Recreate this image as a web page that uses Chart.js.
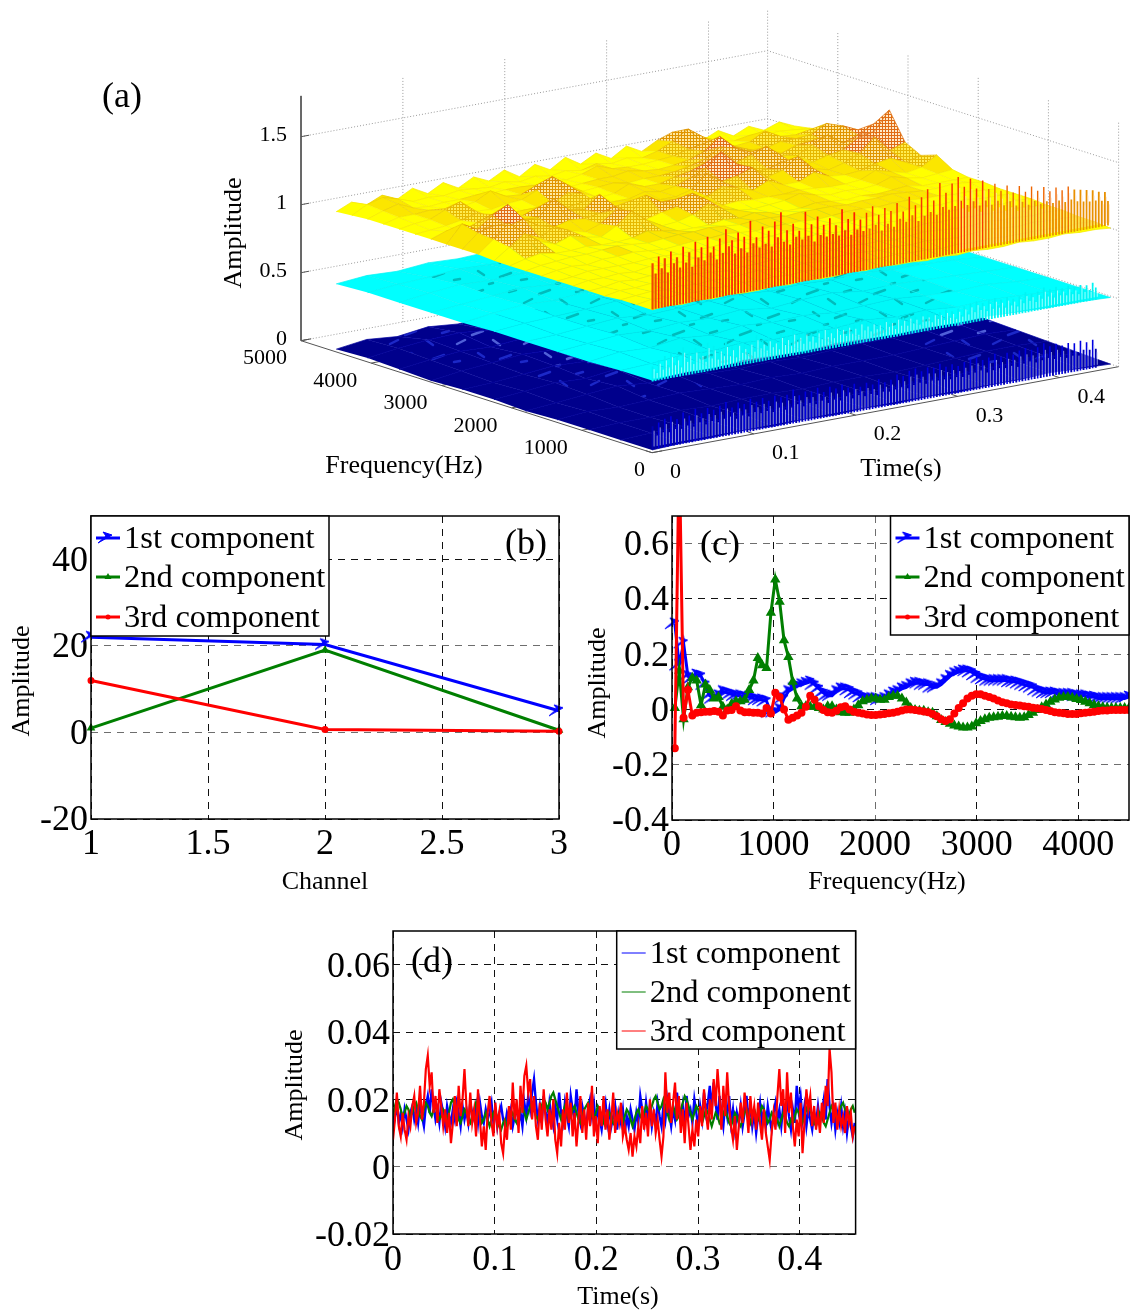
<!DOCTYPE html>
<html>
<head>
<meta charset="utf-8">
<title>Component amplitudes</title>
<script src="https://cdn.jsdelivr.net/npm/chart.js@4"></script>
<style>
  html, body { margin: 0; padding: 0; background: #fff; }
  #page { position: relative; width: 1132px; height: 1310px; overflow: hidden; }
  canvas { position: absolute; }
</style>
</head>
<body>
<div id="page">
  <canvas id="panelA" width="1132" height="505" style="left:0;top:0"></canvas>
  <canvas id="panelB" width="570" height="400" style="left:0;top:505px"></canvas>
  <canvas id="panelC" width="554" height="400" style="left:578px;top:505px"></canvas>
  <canvas id="panelD" width="600" height="390" style="left:280px;top:920px"></canvas>
</div>
<script>
/** Four panel component figure: waterfall surfaces (a), channel (b), spectrum (c), waveform (d) */

const SERIF = '"Liberation Serif", "Times New Roman", serif';
const BLUE = '#0000ff', GREEN = '#007f00', RED = '#ff0000';
const componentLabels = ['1st component', '2nd component', '3rd component'];

// panel (a) axes
const timeTicksA = [0, 0.1, 0.2, 0.3, 0.4];
const freqTicksA = [0, 1000, 2000, 3000, 4000, 5000];
const ampTicksA = [0, 0.5, 1, 1.5];
const gridTimesHi = [0,.015,.03,.045,.06,.075,.09,.105,.12,.135,.15,.165,.18,.195,.21,.225,.24,.255,.27,.285,.3,.315,.33,.345,.36,.375,.39,.405,.42,.435,.45];
const gridFreqsHi = [0,225,450,675,900,1125,1350,1575,1800,2025,2250,2475,2700,2925,3150,3375,3600,3825,4050,4275,4500];
const gridTimesLo = [0,.03,.06,.09,.12,.15,.18,.21,.24,.27,.3,.33,.36,.39,.42,.45];
const gridFreqsLo = [0,450,900,1350,1800,2250,2700,3150,3600,4050,4500];

// 3rd component surface, one row per frequency
const surfaceYellow = [
  [1.05,1.06,1.05,1.06,1.05,1.06,1.05,1.05,1.06,1.05,1.06,1.05,1.05,1.06,1.05,1.06,1.05,1.05,1.04,1.05,1.04,1.05,1.04,1.04,1.05,1.04,1.04,1.05,1.04,1.04,1.03],
  [1.05,1.07,1.06,1.07,1.06,1.07,1.06,1.07,1.06,1.07,1.06,1.07,1.06,1.07,1.06,1.07,1.06,1.07,1.06,1.06,1.05,1.06,1.05,1.06,1.05,1.05,1.05,1.05,1.04,1.05,1.04],
  [1.05,1.06,1.07,1.06,1.07,1.06,1.07,1.06,1.07,1.08,1.07,1.06,1.07,1.06,1.07,1.08,1.07,1.06,1.07,1.06,1.07,1.06,1.05,1.06,1.07,1.06,1.05,1.06,1.05,1.05,1.04],
  [1.04,1.06,1.06,1.07,1.06,1.07,1.08,1.07,1.06,1.07,1.07,1.08,1.07,1.07,1.06,1.07,1.08,1.07,1.07,1.06,1.07,1.08,1.07,1.06,1.06,1.07,1.06,1.06,1.05,1.06,1.05],
  [1.04,1.05,1.07,1.06,1.07,1.07,1.06,1.08,1.07,1.06,1.08,1.07,1.08,1.07,1.08,1.07,1.06,1.08,1.07,1.08,1.07,1.06,1.08,1.07,1.08,1.07,1.07,1.06,1.07,1.06,1.05],
  [1.04,1.06,1.06,1.07,1.06,1.08,1.07,1.07,1.08,1.07,1.07,1.08,1.08,1.07,1.08,1.08,1.09,1.08,1.07,1.08,1.09,1.08,1.07,1.08,1.07,1.08,1.08,1.07,1.06,1.07,1.06],
  [1.04,1.05,1.07,1.07,1.07,1.07,1.08,1.08,1.07,1.08,1.08,1.09,1.09,1.08,1.08,1.09,1.09,1.08,1.09,1.08,1.09,1.09,1.08,1.09,1.09,1.08,1.09,1.08,1.07,1.07,1.06],
  [1.04,1.06,1.07,1.06,1.08,1.08,1.09,1.08,1.07,1.08,1.09,1.09,1.10,1.09,1.08,1.09,1.09,1.09,1.08,1.09,1.10,1.10,1.09,1.10,1.10,1.09,1.09,1.08,1.08,1.07,1.06],
  [1.04,1.06,1.07,1.08,1.08,1.09,1.10,1.09,1.08,1.09,1.10,1.10,1.11,1.10,1.09,1.10,1.10,1.09,1.10,1.10,1.10,1.09,1.10,1.10,1.11,1.10,1.09,1.09,1.10,1.09,1.07],
  [1.04,1.07,1.09,1.07,1.07,1.08,1.07,1.07,1.08,1.11,1.09,1.07,1.07,1.07,1.09,1.08,1.10,1.08,1.07,1.07,1.09,1.08,1.07,1.08,1.07,1.08,1.09,1.07,1.07,1.07,1.07],
  [1.04,1.12,1.20,1.12,1.08,1.12,1.09,1.07,1.13,1.22,1.13,1.07,1.08,1.11,1.17,1.11,1.08,1.07,1.08,1.09,1.12,1.09,1.07,1.08,1.07,1.08,1.12,1.09,1.07,1.08,1.09],
  [1.05,1.14,1.24,1.14,1.09,1.15,1.10,1.07,1.11,1.19,1.11,1.08,1.11,1.13,1.21,1.14,1.08,1.09,1.08,1.08,1.08,1.09,1.08,1.07,1.07,1.08,1.13,1.10,1.07,1.09,1.16],
  [1.05,1.15,1.18,1.16,1.19,1.12,1.09,1.12,1.11,1.13,1.16,1.09,1.20,1.13,1.13,1.09,1.11,1.16,1.13,1.09,1.14,1.09,1.09,1.14,1.09,1.08,1.09,1.12,1.14,1.09,1.12],
  [1.05,1.18,1.12,1.20,1.26,1.13,1.12,1.24,1.14,1.12,1.21,1.10,1.12,1.09,1.09,1.09,1.12,1.22,1.14,1.16,1.20,1.11,1.14,1.22,1.11,1.08,1.11,1.16,1.26,1.14,1.18],
  [1.05,1.09,1.07,1.11,1.15,1.08,1.10,1.14,1.09,1.10,1.12,1.08,1.08,1.08,1.11,1.09,1.11,1.15,1.20,1.30,1.19,1.11,1.11,1.14,1.09,1.10,1.13,1.15,1.22,1.24,1.38],
  [1.05,1.06,1.07,1.09,1.12,1.07,1.08,1.08,1.08,1.09,1.15,1.12,1.07,1.08,1.13,1.09,1.09,1.12,1.14,1.18,1.15,1.14,1.18,1.22,1.13,1.11,1.17,1.22,1.14,1.18,1.24],
  [1.05,1.07,1.08,1.13,1.17,1.08,1.07,1.09,1.10,1.15,1.23,1.15,1.08,1.09,1.10,1.08,1.09,1.09,1.10,1.12,1.15,1.22,1.19,1.14,1.11,1.09,1.13,1.14,1.11,1.21,1.16],
  [1.05,1.08,1.08,1.09,1.08,1.07,1.09,1.15,1.09,1.08,1.13,1.09,1.07,1.08,1.09,1.09,1.11,1.09,1.08,1.09,1.11,1.15,1.24,1.14,1.10,1.09,1.12,1.12,1.13,1.19,1.12],
  [1.05,1.09,1.12,1.07,1.06,1.07,1.07,1.08,1.07,1.08,1.08,1.07,1.08,1.07,1.09,1.13,1.09,1.08,1.08,1.09,1.10,1.13,1.15,1.12,1.09,1.10,1.16,1.10,1.09,1.11,1.09],
  [1.04,1.10,1.13,1.10,1.06,1.07,1.06,1.08,1.07,1.06,1.08,1.06,1.08,1.06,1.08,1.06,1.09,1.07,1.09,1.07,1.10,1.15,1.22,1.14,1.09,1.07,1.09,1.07,1.08,1.07,1.06],
  [1.03,1.08,1.04,1.09,1.04,1.10,1.04,1.10,1.04,1.10,1.05,1.11,1.04,1.11,1.05,1.12,1.05,1.11,1.05,1.12,1.06,1.12,1.16,1.10,1.06,1.11,1.05,1.10,1.05,1.09,1.04]
];
const surfaceCyan = [
  [.53,.55,.54,.56,.55,.54,.56,.55,.54,.55,.54,.55,.54,.53,.53,.52],
  [.53,.54,.56,.55,.57,.55,.56,.55,.57,.55,.56,.54,.55,.54,.53,.52],
  [.52,.55,.54,.57,.55,.58,.56,.57,.55,.56,.57,.55,.54,.55,.53,.52],
  [.52,.54,.56,.55,.57,.56,.58,.55,.57,.58,.55,.56,.55,.54,.53,.52],
  [.52,.53,.55,.57,.55,.56,.57,.58,.56,.57,.56,.57,.55,.55,.54,.52],
  [.52,.54,.55,.56,.58,.55,.57,.56,.58,.56,.57,.55,.56,.55,.53,.52],
  [.51,.54,.56,.55,.57,.56,.55,.57,.56,.58,.55,.57,.56,.54,.54,.52],
  [.51,.53,.55,.57,.55,.57,.56,.55,.57,.55,.56,.55,.57,.55,.53,.52],
  [.51,.54,.56,.55,.56,.55,.57,.56,.55,.56,.55,.56,.55,.56,.54,.52],
  [.51,.53,.54,.56,.55,.56,.55,.56,.54,.55,.56,.54,.55,.54,.53,.52],
  [.50,.52,.51,.53,.52,.53,.52,.53,.52,.53,.52,.53,.52,.52,.52,.51]
];
const surfaceBlue = [
  [.02,.03,.03,.04,.03,.04,.03,.04,.03,.04,.03,.04,.04,.05,.04,.03],
  [.02,.03,.04,.03,.04,.03,.04,.03,.04,.03,.04,.04,.05,.05,.05,.04],
  [.02,.03,.03,.04,.03,.04,.04,.03,.04,.04,.03,.04,.05,.06,.06,.05],
  [.02,.04,.03,.04,.05,.04,.03,.04,.03,.04,.04,.04,.05,.06,.07,.06],
  [.01,.03,.05,.07,.05,.06,.04,.03,.04,.03,.04,.05,.05,.07,.08,.07],
  [.02,.04,.06,.05,.08,.06,.05,.04,.03,.04,.04,.05,.06,.07,.09,.08],
  [.02,.03,.05,.07,.06,.07,.06,.04,.05,.04,.05,.05,.06,.08,.11,.09],
  [.01,.04,.06,.08,.07,.06,.05,.05,.04,.05,.05,.06,.07,.08,.10,.07],
  [.02,.05,.07,.06,.08,.07,.06,.05,.05,.05,.06,.06,.07,.07,.07,.05],
  [.03,.06,.08,.09,.07,.06,.06,.05,.06,.05,.06,.06,.06,.06,.05,.04],
  [.02,.05,.03,.06,.04,.06,.04,.05,.04,.05,.04,.05,.04,.04,.04,.03]
];
// spiky low frequency ridge along the front edge of each surface
const ridgeTimeStepYellow = 0.003;
const ridgeYellow = [1.38,1.30,1.42,1.33,1.40,1.29,1.44,1.35,1.39,1.31,1.46,1.34,1.41,1.30,1.48,1.36,1.43,1.33,1.50,1.38,1.42,1.32,1.47,1.36,1.53,1.40,1.44,1.34,1.49,1.37,1.45,1.33,1.56,1.39,1.43,1.35,1.50,1.37,1.46,1.34,1.52,1.40,1.58,1.36,1.44,1.33,1.48,1.38,1.42,1.35,1.55,1.37,1.45,1.32,1.50,1.36,1.43,1.34,1.47,1.35,1.41,1.33,1.52,1.36,1.44,1.32,1.48,1.35,1.42,1.33,1.46,1.34,1.50,1.36,1.43,1.31,1.47,1.35,1.44,1.32,1.49,1.37,1.42,1.34,1.52,1.38,1.45,1.33,1.50,1.36,1.55,1.38,1.46,1.35,1.58,1.40,1.50,1.37,1.56,1.39,1.60,1.42,1.52,1.38,1.57,1.40,1.49,1.36,1.54,1.39,1.47,1.35,1.50,1.37,1.44,1.33,1.47,1.35,1.41,1.31,1.45,1.33,1.40,1.30,1.43,1.32,1.39,1.29,1.41,1.30,1.37,1.28,1.39,1.29,1.36,1.27,1.38,1.28,1.35,1.26,1.34,1.25,1.33,1.24,1.32,1.24,1.30,1.23,1.29,1.22];
const ridgeTimeStepLow = 0.003;
const ridgeCyan = [.62,.58,.66,.60,.68,.61,.70,.62,.66,.59,.72,.63,.68,.60,.70,.64,.66,.60,.72,.62,.69,.60,.67,.62,.70,.61,.66,.59,.69,.62,.65,.60,.68,.61,.71,.63,.66,.60,.68,.62,.65,.59,.69,.62,.66,.60,.70,.63,.66,.60,.68,.61,.65,.59,.67,.61,.69,.62,.65,.60,.68,.62,.66,.60,.67,.61,.65,.59,.68,.62,.65,.60,.66,.61,.64,.59,.66,.61,.64,.58,.66,.60,.64,.59,.65,.60,.63,.58,.65,.60,.63,.58,.64,.60,.63,.58,.64,.59,.62,.57,.63,.58,.64,.59,.65,.60,.66,.61,.64,.59,.65,.60,.66,.60,.64,.59,.65,.60,.63,.58,.64,.60,.66,.61,.64,.59,.65,.61,.67,.62,.65,.60,.66,.61,.64,.60,.65,.60,.63,.59,.64,.60,.63,.59,.64,.60];
const ridgeBlue = [.18,.13,.20,.15,.22,.14,.23,.16,.20,.15,.24,.17,.21,.15,.25,.18,.21,.15,.24,.17,.22,.15,.24,.17,.26,.18,.21,.15,.24,.17,.22,.15,.25,.18,.22,.16,.24,.17,.21,.15,.24,.18,.22,.15,.23,.16,.26,.18,.21,.15,.23,.17,.22,.15,.24,.17,.20,.14,.23,.16,.21,.14,.23,.17,.20,.14,.22,.16,.19,.14,.21,.15,.19,.13,.22,.15,.19,.14,.20,.15,.23,.16,.21,.14,.24,.16,.25,.17,.22,.15,.24,.17,.23,.16,.25,.16,.22,.15,.23,.16,.21,.15,.23,.16,.24,.17,.25,.18,.22,.15,.23,.16,.25,.17,.22,.16,.24,.17,.22,.15,.24,.17,.25,.18,.23,.16,.24,.17,.26,.18,.23,.16,.24,.17,.22,.15,.23,.16,.22,.15,.23,.16,.21,.15,.22,.15];

// panel (b)
const channels = [1, 2, 3];
const channelBlue = [22, 20.3, 5];
const channelGreen = [1, 19, 0.5];
const channelRed = [12, 0.7, 0.3];
const xTicksB = [1, 1.5, 2, 2.5, 3];
const yTicksB = [-20, 0, 20, 40];

// panel (c)
const freqC = [28,71,114,157,200,243,286,329,372,415,458,501,544,587,630,673,716,759,802,845,888,931,974,1017,1060,1103,1146,1189,1232,1275,1318,1361,1404,1447,1490,1533,1576,1619,1662,1705,1748,1791,1834,1877,1920,1963,2006,2049,2092,2135,2178,2221,2264,2307,2350,2393,2436,2479,2522,2565,2608,2651,2694,2737,2780,2823,2866,2909,2952,2995,3038,3081,3124,3167,3210,3253,3296,3339,3382,3425,3468,3511,3554,3597,3640,3683,3726,3769,3812,3855,3898,3941,3984,4027,4070,4113,4156,4199,4242,4285,4328,4371,4414,4457,4500];
const spectrumBlue = [.31,.16,.24,.12,.11,.125,.12,.09,.05,.04,.05,.065,.06,.055,.05,.05,.045,.045,.04,.035,.035,.03,-.01,-.01,0,.04,.065,.075,.085,.09,.095,.10,.09,.075,.06,.05,.05,.065,.075,.075,.07,.06,.055,.045,.04,.04,.04,.035,.04,.05,.06,.065,.075,.08,.09,.095,.095,.09,.09,.08,.08,.09,.105,.12,.13,.135,.14,.14,.135,.125,.115,.11,.105,.105,.105,.105,.105,.10,.10,.095,.09,.085,.08,.07,.065,.06,.06,.06,.055,.055,.055,.055,.05,.05,.05,.045,.045,.04,.04,.04,.04,.04,.04,.04,.045];
const spectrumGreen = [.005,.14,-.035,.08,.115,.105,.015,.09,.07,.04,.045,.01,0,.02,.03,.03,.035,.07,.105,.186,.16,.15,.35,.47,.39,.25,.19,.10,.04,.012,.012,.01,.01,.005,0,.012,.012,0,-.01,-.012,-.012,0,.015,.03,.035,.04,.04,.035,.035,.045,.05,.05,.04,.025,.005,-.002,-.005,-.005,-.01,-.012,-.025,-.038,-.045,-.052,-.058,-.062,-.065,-.065,-.062,-.05,-.042,-.035,-.03,-.028,-.026,-.024,-.024,-.026,-.028,-.03,-.028,-.02,-.012,-.002,.008,.018,.028,.036,.042,.045,.045,.042,.038,.034,.028,.022,.016,.012,.008,.006,.005,.005,.005,.005,.005];
const spectrumRed = [-.14,.95,-.03,.07,-.022,-.012,-.01,-.008,-.008,-.006,-.008,-.022,-.004,-.002,.012,-.004,-.01,-.01,-.012,-.012,-.015,.005,-.015,.06,.045,0,-.037,-.03,-.022,-.012,.01,.05,.035,.012,-.002,-.01,-.012,-.005,.008,.012,0,-.008,-.012,-.015,-.018,-.02,-.02,-.018,-.016,-.014,-.012,-.008,-.004,0,0,-.002,-.005,-.007,-.01,-.016,-.025,-.035,-.042,-.035,-.015,.005,.022,.04,.05,.055,.055,.05,.045,.04,.032,.026,.022,.018,.016,.014,.012,.01,.006,.004,.002,-.002,-.006,-.01,-.012,-.014,-.016,-.016,-.016,-.014,-.012,-.01,-.008,-.006,-.004,-.004,-.002,-.002,-.002,-.002,-.002];
const xTicksC = [0, 1000, 2000, 3000, 4000];
const yTicksC = [-0.4, -0.2, 0, 0.2, 0.4, 0.6];

// panel (d), sampled every 1.9 ms
const sampleStepD = 0.0019;
const waveBlue = [.011,.015,.018,.013,.016,.012,.017,.014,.011,.016,.018,.014,.017,.013,.019,.015,.012,.018,.021,.016,
  .023,.018,.014,.017,.013,.019,.016,.012,.018,.015,.013,.017,.014,.019,.016,.012,.018,.014,.017,.013,
  .019,.016,.014,.018,.013,.019,.015,.013,.017,.014,.016,.019,.013,.017,.012,.016,.018,.014,.012,.016,
  .014,.017,.012,.015,.018,.013,.016,.012,.019,.015,.021,.017,.022,.026,.019,.014,.018,.013,.021,.016,
  .013,.019,.015,.012,.018,.014,.022,.016,.013,.019,.015,.012,.021,.017,.014,.023,.016,.013,.018,.015,
  .012,.017,.020,.015,.019,.013,.017,.014,.011,.016,.019,.013,.017,.012,.015,.018,.011,.016,.013,.017,
  .010,.015,.012,.017,.014,.011,.016,.013,.021,.017,.013,.019,.014,.018,.012,.016,.013,.019,.015,.012,
  .018,.014,.020,.016,.012,.017,.014,.022,.017,.013,.018,.012,.021,.015,.017,.013,.020,.016,.012,.018,
  .014,.022,.016,.019,.024,.017,.025,.019,.014,.021,.016,.012,.019,.015,.021,.013,.017,.011,.016,.013,
  .018,.012,.016,.021,.014,.018,.012,.016,.010,.015,.019,.013,.017,.012,.018,.014,.011,.016,.019,.014,
  .017,.012,.018,.014,.020,.015,.011,.017,.013,.024,.017,.021,.014,.018,.012,.017,.014,.011,.016,.013,
  .018,.013,.016,.020,.014,.026,.018,.013,.017,.011,.016,.013,.018,.012,.016,.010,.015,.012,.009,.013];
const waveGreen = [.015,.018,.020,.019,.017,.015,.016,.018,.017,.015,.016,.018,.019,.017,.015,.014,.017,.019,.018,.016,
  .015,.017,.018,.016,.014,.015,.017,.016,.014,.016,.019,.020,.018,.016,.014,.013,.015,.017,.016,.014,
  .013,.015,.017,.019,.017,.015,.013,.014,.016,.014,.012,.014,.016,.017,.014,.012,.011,.013,.014,.012,
  .013,.015,.016,.014,.013,.015,.017,.018,.016,.014,.016,.018,.019,.017,.015,.014,.016,.018,.020,.019,
  .017,.019,.021,.022,.020,.018,.016,.014,.016,.018,.016,.014,.015,.017,.018,.016,.014,.013,.015,.017,
  .018,.019,.017,.015,.014,.016,.018,.017,.015,.013,.012,.014,.016,.015,.013,.012,.014,.016,.015,.013,
  .015,.017,.016,.014,.012,.014,.016,.017,.015,.014,.016,.018,.017,.016,.018,.020,.021,.019,.017,.018,
  .020,.018,.016,.014,.016,.018,.016,.014,.015,.017,.019,.021,.020,.018,.016,.014,.016,.018,.017,.015,
  .013,.015,.017,.016,.014,.012,.014,.016,.015,.013,.014,.016,.017,.015,.013,.012,.014,.016,.015,.013,
  .012,.014,.016,.017,.015,.013,.015,.017,.015,.014,.016,.018,.017,.015,.013,.014,.016,.015,.013,.014,
  .012,.014,.016,.015,.013,.012,.014,.013,.015,.017,.016,.014,.013,.015,.017,.019,.017,.015,.013,.012,
  .014,.016,.015,.013,.012,.014,.016,.018,.017,.015,.014,.016,.018,.019,.017,.016,.015,.017,.018,.016];
const waveRed = [.008,.014,.022,.012,.009,.016,.011,.008,.015,.012,.018,.021,.013,.016,.024,.014,.019,.029,.033,.024,
  .028,.016,.021,.013,.023,.018,.012,.017,.010,.016,.007,.013,.021,.012,.024,.015,.020,.029,.018,.012,
  .022,.013,.017,.009,.023,.014,.006,.012,.005,.016,.021,.013,.009,.019,.012,.016,.007,.004,.012,.008,
  .018,.011,.025,.014,.020,.010,.024,.016,.027,.030,.022,.026,.014,.021,.012,.008,.019,.011,.023,.014,
  .009,.017,.011,.020,.008,.004,.013,.006,.017,.011,.022,.013,.019,.009,.016,.006,.014,.021,.010,.017,
  .008,.019,.012,.024,.009,.015,.007,.018,.012,.021,.011,.017,.008,.014,.022,.010,.016,.013,.019,.009,
  .012,.008,.005,.010,.003,.009,.006,.012,.007,.018,.011,.016,.009,.020,.012,.017,.010,.014,.008,.003,
  .009,.028,.016,.022,.013,.019,.025,.014,.021,.010,.017,.007,.019,.012,.005,.011,.006,.014,.009,.018,
  .012,.023,.016,.011,.020,.014,.026,.018,.029,.021,.011,.024,.015,.028,.018,.012,.008,.015,.005,.012,
  .019,.013,.022,.017,.010,.021,.014,.018,.011,.019,.013,.008,.017,.010,.006,.002,.010,.016,.011,.021,
  .029,.018,.023,.010,.028,.016,.022,.012,.006,.014,.009,.019,.004,.013,.023,.017,.021,.012,.018,.011,
  .016,.010,.019,.013,.024,.018,.035,.028,.013,.019,.011,.017,.012,.015,.010,.018,.013,.016,.009,.012];
const xTicksD = [0, 0.1, 0.2, 0.3, 0.4];
const yTicksD = [-0.02, 0, 0.02, 0.04, 0.06];

const xy = (xs, ys) => ys.map((y, i) => ({ x: xs[i], y }));

// ---- markers and fills -------------------------------------------------

function makeStarMarker() {
  const c = document.createElement('canvas');
  c.width = 26; c.height = 18;
  const g = c.getContext('2d');
  g.fillStyle = BLUE; g.strokeStyle = BLUE; g.lineWidth = 1;
  g.beginPath();
  g.moveTo(17, 6); g.lineTo(3, 14); g.lineTo(11, 7); g.lineTo(8, 3); g.closePath();
  g.fill(); g.stroke();
  return c;
}
const starMarker = makeStarMarker();

function lattice(line, bg, size = 3) {
  const c = document.createElement('canvas');
  c.width = size; c.height = size;
  const g = c.getContext('2d');
  g.fillStyle = bg; g.fillRect(0, 0, size, size);
  g.fillStyle = line; g.fillRect(0, 0, size, 1); g.fillRect(0, 0, 1, size);
  return g.createPattern(c, 'repeat');
}
function streaks(base, mark) {
  const c = document.createElement('canvas');
  c.width = 67; c.height = 41;
  const g = c.getContext('2d');
  g.fillStyle = base; g.fillRect(0, 0, 67, 41);
  g.strokeStyle = mark; g.lineWidth = 2.5; g.lineCap = 'round';
  [[3, 7, 14, 3], [24, 12, 31, 17], [40, 5, 47, 3], [55, 16, 63, 12], [9, 25, 15, 29], [31, 31, 42, 27], [52, 34, 58, 33], [20, 38, 24, 37]].forEach(s => {
    g.beginPath(); g.moveTo(s[0], s[1]); g.lineTo(s[2], s[3]); g.stroke();
  });
  return g.createPattern(c, 'repeat');
}
const YELLOW_FILLS = [
  { below: 1.09, fill: '#ffff00', line: '#f6ea00' },
  { below: 1.11, fill: '#fbe600', line: '#ecd000' },
  { below: 1.14, fill: lattice('#e6b800', '#ffec50'), line: '#e8b800' },
  { below: 1.19, fill: lattice('#e09400', '#ffe9a0'), line: '#e09800' },
  { below: 1.28, fill: lattice('#e06c14', '#ffe9c8'), line: '#e07010' },
  { below: 9, fill: lattice('#f01414', '#ffe2d8'), line: '#f01818' }
];
const CYAN_FILLS = [
  { below: .55, fill: '#00ffff', line: '#00f4f4' },
  { below: 9, fill: streaks('#00f8f8', '#00bcbc'), line: '#00eeee' }
];
const BLUE_FILLS = [
  { below: .05, fill: '#00008c', line: '#00009a' },
  { below: .07, fill: streaks('#00008c', '#1c28c8'), line: '#0000a0' },
  { below: 9, fill: streaks('#000090', '#5060d8'), line: '#0000a8' }
];

// ---- panel (a): surfaces projected to the figure plane --------------------

const T_MAX = 0.458, F_MAX = 5000, Z_TOP = 1.8;
function project3d(t, f, z) {
  return { x: 652 - 0.0702 * f + 1018.8 * t, y: 452.7 - 0.0224 * f - 187.8 * t - 136 * z };
}

function lineSet(points, color, width, dash) {
  return { data: points, showLine: true, pointRadius: 0, borderColor: color, borderWidth: width, borderDash: dash || [], fill: false, tension: 0 };
}

function surfaceCells(grid, times, freqs, fills) {
  const out = [];
  for (let i = freqs.length - 2; i >= 0; i--) {
    for (let j = times.length - 2; j >= 0; j--) {
      const corners = [[i, j], [i, j + 1], [i + 1, j + 1], [i + 1, j]];
      const mean = corners.reduce((s, c) => s + grid[c[0]][c[1]], 0) / 4;
      const style = fills.find(b => mean < b.below);
      out.push({
        data: corners.map(c => project3d(times[c[1]], freqs[c[0]], grid[c[0]][c[1]])),
        showLine: true, pointRadius: 0, tension: 0,
        fill: 'shape', backgroundColor: style.fill,
        borderColor: style.line, borderWidth: 0.7
      });
    }
  }
  return out;
}

// each ridge value is one vertical hair coloured by position and height,
// pale gap hairs sit between neighbours from gap.fromIndex onward
function ridgeLines(values, step, floor, buckets, gap) {
  const gapPts = [];
  values.forEach((v, k) => {
    if (k < gap.fromIndex) return;
    const t = 0.004 + (k + 0.5) * step;
    gapPts.push(project3d(t, 50, floor + 0.02), project3d(t, 50, floor + (v - floor) * gap.share), { x: NaN, y: NaN });
  });
  const sets = buckets.map(b => {
    const pts = [];
    values.forEach((v, k) => {
      if (k < b.k0 || k >= b.k1 || v < b.from || v >= b.to) return;
      const t = 0.004 + k * step;
      pts.push(project3d(t, 50, floor), project3d(t, 50, v), { x: NaN, y: NaN });
    });
    return lineSet(pts, b.color, b.width);
  });
  return [...sets, lineSet(gapPts, gap.color, gap.width)];
}

function wallLines() {
  const dotted = '#9a9a9a', out = [];
  const dash = [1, 2];
  ampTicksA.forEach(z => {
    out.push(lineSet([project3d(0, F_MAX, z), project3d(T_MAX, F_MAX, z), project3d(T_MAX, 0, z)], dotted, 1, dash));
  });
  timeTicksA.slice(1).concat(T_MAX).forEach(t => {
    out.push(lineSet([project3d(t, F_MAX, 0), project3d(t, F_MAX, Z_TOP)], dotted, 1, dash));
  });
  freqTicksA.slice(0, -1).slice(1).concat(0).forEach(f => {
    out.push(lineSet([project3d(T_MAX, f, 0), project3d(T_MAX, f, Z_TOP)], dotted, 1, dash));
  });
  return out;
}

function axisLines() {
  const c = '#555', out = [];
  out.push(lineSet([project3d(0, F_MAX, Z_TOP), project3d(0, F_MAX, 0), project3d(0, 0, 0), project3d(T_MAX, 0, 0)], c, 1));
  ampTicksA.forEach(z => {
    out.push(lineSet([project3d(0, F_MAX, z), project3d(0.008, F_MAX, z)], c, 1));
  });
  timeTicksA.forEach(t => {
    out.push(lineSet([project3d(t, 0, 0), project3d(t, 90, 0)], c, 1));
  });
  freqTicksA.forEach(f => {
    out.push(lineSet([project3d(0, f, 0), project3d(0.01, f, 0)], c, 1));
  });
  return out;
}

function panelADatasets() {
  // pushed in paint order, Chart.js paints the last dataset first
  const paint = [
    ...wallLines(),
    ...axisLines(),
    ...surfaceCells(surfaceBlue, gridTimesLo, gridFreqsLo, BLUE_FILLS),
    ...ridgeLines(ridgeBlue, ridgeTimeStepLow, 0.01, [
      { k0: 0, k1: 999, from: 0, to: .19, color: '#0000b0', width: 1.9 },
      { k0: 0, k1: 999, from: .19, to: 1, color: '#0000e0', width: 1.6 }
    ], { fromIndex: 0, share: 0.8, color: '#c8d2ff', width: 0.7 }),
    ...surfaceCells(surfaceCyan, gridTimesLo, gridFreqsLo, CYAN_FILLS),
    ...ridgeLines(ridgeCyan, ridgeTimeStepLow, 0.51, [
      { k0: 0, k1: 999, from: 0, to: .9, color: '#00f4f4', width: 1.8 }
    ], { fromIndex: 0, share: 0.8, color: '#e0ffff', width: 0.7 }),
    ...surfaceCells(surfaceYellow, gridTimesHi, gridFreqsHi, YELLOW_FILLS),
    ...ridgeLines(ridgeYellow, ridgeTimeStepYellow, 1.04, [
      { k0: 0, k1: 70, from: 0, to: 1.42, color: '#f04a00', width: 2.2 },
      { k0: 0, k1: 70, from: 1.42, to: 2, color: '#ff1c00', width: 1.7 },
      { k0: 70, k1: 110, from: 0, to: 1.42, color: '#ee7000', width: 2 },
      { k0: 70, k1: 110, from: 1.42, to: 2, color: '#f83800', width: 1.5 },
      { k0: 110, k1: 999, from: 0, to: 1.36, color: '#e89000', width: 1.8 },
      { k0: 110, k1: 999, from: 1.36, to: 2, color: '#ee6400', width: 1.4 }
    ], { fromIndex: 100, share: 0.85, color: '#ffe0c0', width: 0.7 })
  ];
  return paint.reverse();
}

// ---- shared page text, box and legend ------------------------------------

function textPlugin(items) {
  return {
    id: 'pageText',
    afterDatasetsDraw(chart) {
      const ctx = chart.ctx;
      items.forEach(it => {
        ctx.save();
        ctx.translate(it.x, it.y);
        if (it.vertical) ctx.rotate(-Math.PI / 2);
        ctx.font = `${it.size}px ${SERIF}`;
        ctx.fillStyle = '#000';
        ctx.textAlign = it.align || 'center';
        ctx.textBaseline = 'middle';
        ctx.fillText(it.text, 0, 0);
        ctx.restore();
      });
    }
  };
}

const boxPlugin = {
  id: 'plotBox',
  afterDatasetsDraw(chart) {
    const { left, top, width, height } = chart.chartArea;
    chart.ctx.save();
    chart.ctx.strokeStyle = '#000';
    chart.ctx.lineWidth = 1.5;
    chart.ctx.strokeRect(left, top, width, height);
    chart.ctx.restore();
  }
};

function legendPlugin(box, lineWidth, markers) {
  return {
    id: 'componentLegend',
    afterDatasetsDraw(chart) {
      const ctx = chart.ctx;
      ctx.save();
      ctx.fillStyle = '#fff';
      ctx.fillRect(box.x0, box.y0, box.x1 - box.x0, box.y1 - box.y0);
      ctx.strokeStyle = '#000';
      ctx.lineWidth = 1.5;
      ctx.strokeRect(box.x0, box.y0, box.x1 - box.x0, box.y1 - box.y0);
      [BLUE, GREEN, RED].forEach((color, i) => {
        const y = box.rows[i];
        ctx.strokeStyle = color;
        ctx.fillStyle = color;
        ctx.lineWidth = lineWidth;
        ctx.beginPath();
        ctx.moveTo(box.x0 + 5, y);
        ctx.lineTo(box.x0 + 29, y);
        ctx.stroke();
        if (markers) {
          const mx = box.x0 + 17;
          if (i === 0) ctx.drawImage(starMarker, mx - 13, y - 9);
          else if (i === 1) { ctx.beginPath(); ctx.moveTo(mx, y - 4); ctx.lineTo(mx + 3.5, y + 2); ctx.lineTo(mx - 3.5, y + 2); ctx.fill(); }
          else { ctx.beginPath(); ctx.arc(mx, y, 2.5, 0, Math.PI * 2); ctx.fill(); }
        }
        ctx.fillStyle = '#000';
        ctx.font = `32.5px ${SERIF}`;
        ctx.textAlign = 'left';
        ctx.textBaseline = 'middle';
        ctx.fillText(componentLabels[i], box.x0 + 33, y + 1);
      });
      ctx.restore();
    }
  };
}

function fixedScale(cfg) {
  return {
    type: 'linear',
    min: cfg.min, max: cfg.max,
    afterBuildTicks: s => { s.ticks = cfg.ticks.map(v => ({ value: v })); },
    afterFit: s => {
      if (cfg.width) s.width = cfg.width;
      if (cfg.height) s.height = cfg.height;
      // tick labels may hang past the plot box, as in the figure
      s.paddingTop = s.paddingBottom = s.paddingLeft = s.paddingRight = 0;
    },
    grid: {
      drawTicks: false, tickLength: 0,
      color: c => (cfg.gray.includes(c.tick.value) ? '#6e6e6e' : '#111'),
      lineWidth: 1
    },
    border: { display: false, dash: [7, 6] },
    ticks: {
      autoSkip: false, maxRotation: 0, color: '#000', padding: cfg.padding,
      labelOffset: cfg.labelOffset || 0,
      font: { family: SERIF, size: 36 },
      callback: v => String(v)
    }
  };
}

function lineChart(id, datasets, xScale, yScale, padding, extraPlugins) {
  return new Chart(document.getElementById(id), {
    type: 'scatter',
    data: { datasets },
    options: {
      responsive: false, animation: false, events: [],
      layout: { padding, autoPadding: false },
      plugins: { legend: { display: false }, tooltip: { enabled: false } },
      scales: { x: fixedScale(xScale), y: fixedScale(yScale) }
    },
    plugins: [boxPlugin, ...extraPlugins]
  });
}

function series(data, color, width, marker, order, clip) {
  return {
    data, showLine: true, tension: 0, order, clip,
    borderColor: color, backgroundColor: color, borderWidth: width,
    pointStyle: marker.style || false, pointRadius: marker.radius || 0,
    pointBorderColor: color, pointBackgroundColor: color
  };
}

// ---- render ---------------------------------------------------------------

function renderPanelA() {
  const labels = [];
  ampTicksA.forEach(z => {
    const p = project3d(0, F_MAX, z);
    labels.push({ text: String(z), x: p.x - 14, y: p.y - 1, size: 22, align: 'right' });
  });
  freqTicksA.forEach(f => {
    const p = project3d(0, f, 0);
    labels.push({ text: String(f), x: p.x - (f === 0 ? 7 : 14), y: p.y + 18, size: 22, align: 'right' });
  });
  timeTicksA.forEach(t => {
    const p = project3d(t, 0, 0);
    labels.push({ text: String(t), x: p.x + 18, y: p.y + 19.5, size: 22, align: 'left' });
  });
  labels.push(
    { text: 'Frequency(Hz)', x: 404, y: 466, size: 26 },
    { text: 'Time(s)', x: 901, y: 469, size: 26 },
    { text: 'Amplitude', x: 234, y: 233, size: 26, vertical: true },
    { text: '(a)', x: 122, y: 98, size: 36 }
  );
  new Chart(document.getElementById('panelA'), {
    type: 'scatter',
    data: { datasets: panelADatasets() },
    options: {
      responsive: false, animation: false, events: [],
      layout: { padding: 0, autoPadding: false },
      plugins: { legend: { display: false }, tooltip: { enabled: false } },
      scales: {
        x: { type: 'linear', min: 0, max: 1132, display: false },
        y: { type: 'linear', min: 0, max: 505, reverse: true, display: false }
      }
    },
    plugins: [textPlugin(labels)]
  });
}

function renderPanelB() {
  const clip = { left: 12, right: 12, top: 0, bottom: 0 };
  lineChart('panelB', [
    series(xy(channels, channelBlue), BLUE, 3, { style: starMarker, radius: 4 }, 3, clip),
    series(xy(channels, channelGreen), GREEN, 3, { style: 'triangle', radius: 2 }, 2, clip),
    series(xy(channels, channelRed), RED, 3, { style: 'circle', radius: 2 }, 1, clip)
  ],
  { min: 1, max: 3, ticks: xTicksB, gray: [], height: 86, padding: 4 },
  { min: -20, max: 50, ticks: yTicksB, gray: [0, 20], width: 91, padding: 3, labelOffset: 2 },
  { top: 11, right: 11, left: 0, bottom: 0 },
  [
    textPlugin([
      { text: '(b)', x: 526, y: 40, size: 36 },
      { text: 'Channel', x: 325, y: 377, size: 26 },
      { text: 'Amplitude', x: 22, y: 176, size: 26, vertical: true }
    ]),
    legendPlugin({ x0: 91, y0: 11, x1: 329, y1: 131, rows: [33, 72, 112] }, 3, true)
  ]);
}

function renderPanelC() {
  const clip = { left: 10, right: 0, top: 0, bottom: 0 };
  lineChart('panelC', [
    series(xy(freqC, spectrumBlue), BLUE, 3, { style: starMarker, radius: 4 }, 3, clip),
    series(xy(freqC, spectrumGreen), GREEN, 3, { style: 'triangle', radius: 3 }, 2, clip),
    series(xy(freqC, spectrumRed), RED, 3, { style: 'circle', radius: 2.5 }, 1, clip)
  ],
  { min: 0, max: 4500, ticks: xTicksC, gray: [2000], height: 85, padding: 4 },
  { min: -0.4, max: 0.7, ticks: yTicksC, gray: [0.6, 0.2, -0.2], width: 94, padding: 3, labelOffset: 2 },
  { top: 11, right: 3, left: 0, bottom: 0 },
  [
    textPlugin([
      { text: '(c)', x: 142, y: 41, size: 36 },
      { text: 'Frequency(Hz)', x: 309, y: 377, size: 26 },
      { text: 'Amplitude', x: 20, y: 178, size: 26, vertical: true }
    ]),
    legendPlugin({ x0: 312.5, y0: 11, x1: 551, y1: 130, rows: [33, 72, 112] }, 3, true)
  ]);
}

function renderPanelD() {
  const times = waveRed.map((_, i) => i * sampleStepD);
  lineChart('panelD', [
    series(xy(times, waveBlue), BLUE, 2.4, {}, 3),
    series(xy(times, waveGreen), GREEN, 2.2, {}, 2),
    series(xy(times, waveRed), RED, 2.2, {}, 1)
  ],
  { min: 0, max: 0.455, ticks: xTicksD, gray: [], height: 76, padding: 5 },
  { min: -0.02, max: 0.07, ticks: yTicksD, gray: [0], width: 113, padding: 3, labelOffset: 3 },
  { top: 11, right: 24.4, left: 0, bottom: 0 },
  [
    textPlugin([
      { text: '(d)', x: 152, y: 43, size: 36 },
      { text: 'Time(s)', x: 338, y: 377, size: 26 },
      { text: 'Amplitude', x: 15, y: 165, size: 26, vertical: true }
    ]),
    legendPlugin({ x0: 336.7, y0: 11, x1: 575.6, y1: 129, rows: [33, 72, 111] }, 1, false)
  ]);
}

renderPanelA();
renderPanelB();
renderPanelC();
renderPanelD();
</script>
</body>
</html>
